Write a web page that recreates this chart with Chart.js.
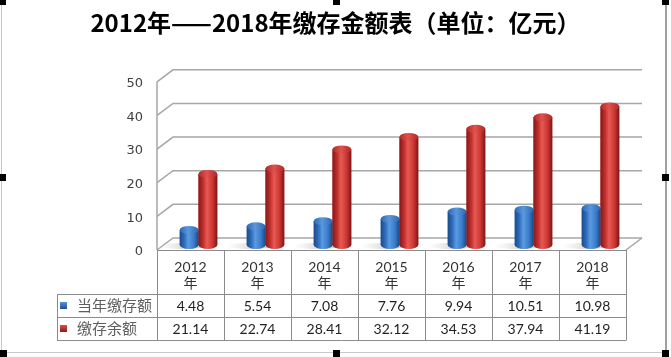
<!DOCTYPE html>
<html>
<head>
<meta charset="utf-8">
<script src="https://cdn.jsdelivr.net/npm/chart.js@4.4.1/dist/chart.umd.min.js"></script>
<style>
  html, body { margin: 0; padding: 0; background: #fff; }
  #wrap { position: relative; width: 671px; height: 357px; overflow: hidden; }
  canvas { position: absolute; left: 0; top: 0; }
  .frame { position: absolute; left: 1px; top: 0; width: 666px; height: 353px;
           border-left: 1px solid #c8c8c8; border-right: 2px solid #a0a0a0; border-bottom: 1px solid #c8c8c8; box-sizing: border-box; }
  .h { position: absolute; background: #000; }
</style>
</head>
<body>
<div id="wrap">
  <canvas id="c" width="671" height="357"></canvas>
  <div class="frame"></div>
  <div class="h" style="left:0;top:0;width:6px;height:5px"></div>
  <div class="h" style="left:333px;top:0;width:7px;height:5px"></div>
  <div class="h" style="left:662px;top:0;width:7px;height:5px"></div>
  <div class="h" style="left:0;top:174px;width:6px;height:7px"></div>
  <div class="h" style="left:662px;top:174px;width:7px;height:7px"></div>
  <div class="h" style="left:0;top:350px;width:7px;height:7px"></div>
  <div class="h" style="left:333px;top:350px;width:7px;height:7px"></div>
  <div class="h" style="left:662px;top:350px;width:7px;height:7px"></div>
</div>
<script>
// ---- data ----
const chartTitle = '2012年——2018年缴存金额表（单位：亿元）';
const categories = ['2012', '2013', '2014', '2015', '2016', '2017', '2018'];
const yearSuffix = '年';
const seriesNames = ['当年缴存额', '缴存余额'];
const annualDeposit = [4.48, 5.54, 7.08, 7.76, 9.94, 10.51, 10.98];
const depositBalance = [21.14, 22.74, 28.41, 32.12, 34.53, 37.94, 41.19];
const yTicks = [0, 10, 20, 30, 40, 50];

// ---- style ----
const DX = 16, DY = 12;      // depth offset of back wall
const SX = 8, SY = -5;       // bars sit at mid depth
const GRID = '#a6a6a6';
const TABLE = '#8c8c8c';
const palettes = [
  { base: '#2f6fbf', stops: ['#1b4a8a', '#2f6dbd', '#5a9be2', '#3b7ccc', '#1a4886'], top: '#5b97dd', topEdge: '#2d67b0' },
  { base: '#c4302d', stops: ['#861818', '#c02f2c', '#e85a55', '#cc3632', '#7e1616'], top: '#e0524d', topEdge: '#b02824' }
];

function ellipse(ctx, cx, cy, rx, ry) {
  ctx.beginPath();
  ctx.ellipse(cx, cy, rx, ry, 0, 0, Math.PI * 2);
}

const threeD = {
  id: 'threeD',
  beforeDatasetsDraw(chart) {
    const { ctx, chartArea: a, scales: { y } } = chart;
    ctx.save();
    ctx.strokeStyle = GRID;
    ctx.lineWidth = 1.5;
    yTicks.forEach(v => {
      const py = y.getPixelForValue(v);
      ctx.beginPath();
      ctx.moveTo(a.left, py);
      ctx.lineTo(a.left + DX, py - DY);
      ctx.lineTo(a.right + DX, py - DY);
      ctx.stroke();
    });
    const p0 = y.getPixelForValue(yTicks[0]);
    ctx.beginPath();
    ctx.moveTo(a.right, p0);
    ctx.lineTo(a.right + DX, p0 - DY);
    ctx.stroke();
    ctx.beginPath();
    ctx.moveTo(a.left, y.getPixelForValue(yTicks[yTicks.length - 1]));
    ctx.lineTo(a.left, p0);
    ctx.stroke();
    // floor shadows
    const meta0 = chart.getDatasetMeta(0);
    meta0.data.forEach(el => {
      const b = el.getProps(['x', 'base', 'width'], true);
      const g = ctx.createLinearGradient(b.x - b.width * 1.6 + SX, 0, b.x + SX, 0);
      g.addColorStop(0, 'rgba(200,200,200,0)');
      g.addColorStop(1, 'rgba(170,170,170,0.55)');
      ctx.fillStyle = g;
      ellipse(ctx, b.x - b.width * 0.3 + SX, b.base + SY + 1, b.width * 1.3, 3);
      ctx.fill();
    });
    ctx.restore();
    ctx.save();
    ctx.translate(SX, SY);
  },
  afterDatasetsDraw(chart) {
    const { ctx } = chart;
    const n = chart.data.labels.length;
    for (let j = 0; j < n; j++) {
      chart.data.datasets.forEach((d, i) => {
        const el = chart.getDatasetMeta(i).data[j];
        const p = el.getProps(['x', 'y', 'base', 'width'], true);
        const pal = palettes[i];
        const rx = p.width / 2, ry = 4;
        const l = p.x - rx;
        const g = ctx.createLinearGradient(l, 0, l + p.width, 0);
        g.addColorStop(0, pal.stops[0]);
        g.addColorStop(0.25, pal.stops[1]);
        g.addColorStop(0.45, pal.stops[2]);
        g.addColorStop(0.75, pal.stops[3]);
        g.addColorStop(1, pal.stops[4]);
        ctx.fillStyle = g;
        ellipse(ctx, p.x, p.base, rx, ry);
        ctx.fill();
        ctx.fillRect(l, p.y, p.width, p.base - p.y);
        const tg = ctx.createLinearGradient(l, 0, l + p.width, 0);
        tg.addColorStop(0, pal.topEdge);
        tg.addColorStop(0.45, pal.top);
        tg.addColorStop(1, pal.topEdge);
        ctx.fillStyle = tg;
        ellipse(ctx, p.x, p.y, rx, ry);
        ctx.fill();
      });
    }
    ctx.restore();
  }
};

const dataTable = {
  id: 'dataTable',
  afterDraw(chart) {
    const { ctx, chartArea: a, scales: { x } } = chart;
    const n = categories.length;
    const cw = (a.right - a.left) / n;
    const r1 = a.bottom + 44, r2 = a.bottom + 67, r3 = a.bottom + 90;
    const tl = 57;
    ctx.save();
    ctx.strokeStyle = TABLE;
    ctx.lineWidth = 1;
    ctx.beginPath();
    ctx.moveTo(a.left, a.bottom + 0.5); ctx.lineTo(a.right, a.bottom + 0.5);
    [r1, r2, r3].forEach(r => { ctx.moveTo(tl, r + 0.5); ctx.lineTo(a.right, r + 0.5); });
    for (let i = 0; i <= n; i++) {
      const px = Math.round(a.left + i * cw) + 0.5;
      ctx.moveTo(px, a.bottom); ctx.lineTo(px, r3 + 0.5);
    }
    ctx.moveTo(tl + 0.5, r1); ctx.lineTo(tl + 0.5, r3 + 0.5);
    ctx.stroke();

    const rows = [annualDeposit, depositBalance];
    const mids = [(r1 + r2) / 2 + 1, (r2 + r3) / 2 + 1];
    ctx.textAlign = 'center';
    ctx.textBaseline = 'middle';
    ctx.font = '14px Lato, "Noto Sans", sans-serif';
    ctx.fillStyle = '#1f1f1f';
    rows.forEach((vals, ri) => {
      vals.forEach((v, j) => {
        ctx.fillText(v.toFixed(2), x.getPixelForValue(j), mids[ri]);
      });
    });
    // legend keys
    ctx.textAlign = 'left';
    ctx.font = '15px "Noto Sans CJK SC", sans-serif';
    seriesNames.forEach((name, ri) => {
      const pal = palettes[ri];
      const cy = mids[ri] - 1;
      const g = ctx.createLinearGradient(0, cy - 4, 0, cy + 4);
      g.addColorStop(0, pal.top);
      g.addColorStop(1, pal.stops[0]);
      ctx.fillStyle = g;
      ctx.fillRect(60, cy - 3.5, 7, 7);
      ctx.fillStyle = '#5f5f5f';
      ctx.fillText(name, 77, cy);
    });
    ctx.restore();
  }
};

new Chart(document.getElementById('c'), {
  type: 'bar',
  data: {
    labels: categories.map(c => [c, yearSuffix]),
    datasets: [
      { label: seriesNames[0], data: annualDeposit, backgroundColor: palettes[0].base, borderWidth: 0 },
      { label: seriesNames[1], data: depositBalance, backgroundColor: palettes[1].base, borderWidth: 0 }
    ]
  },
  options: {
    responsive: false,
    animation: false,
    devicePixelRatio: 1,
    layout: { padding: 0 },
    datasets: { bar: { categoryPercentage: 0.56, barPercentage: 1.0 } },
    plugins: {
      legend: { display: false },
      tooltip: { enabled: false },
      title: {
        display: true,
        text: chartTitle,
        color: '#000',
        font: { size: 24, weight: 'bold', family: '"Noto Sans CJK SC", sans-serif', lineHeight: 1.2 },
        padding: { top: 8, bottom: 45 }
      }
    },
    scales: {
      x: {
        grid: { display: false, drawTicks: false },
        border: { display: false },
        ticks: { color: '#333', font: { size: 14, family: 'Lato, "Noto Sans CJK SC", sans-serif', lineHeight: 1.15 },
                 padding: 9, maxRotation: 0, autoSkip: false },
        afterFit: s => { s.height = 107; }
      },
      y: {
        min: 0, max: 50,
        afterBuildTicks: s => { s.ticks = yTicks.map(v => ({ value: v })); },
        grid: { display: false, drawTicks: false },
        border: { display: false },
        ticks: { color: '#404040', font: { size: 13, family: '"DejaVu Sans", sans-serif' }, padding: 14, labelOffset: 2 },
        afterFit: s => { s.width = 157; }
      },
      yRight: {
        position: 'right', display: true, min: 0, max: 1,
        grid: { display: false, drawTicks: false },
        border: { display: false },
        ticks: { display: false },
        afterFit: s => { s.width = 45; }
      }
    }
  },
  plugins: [threeD, dataTable]
});
</script>
</body>
</html>
